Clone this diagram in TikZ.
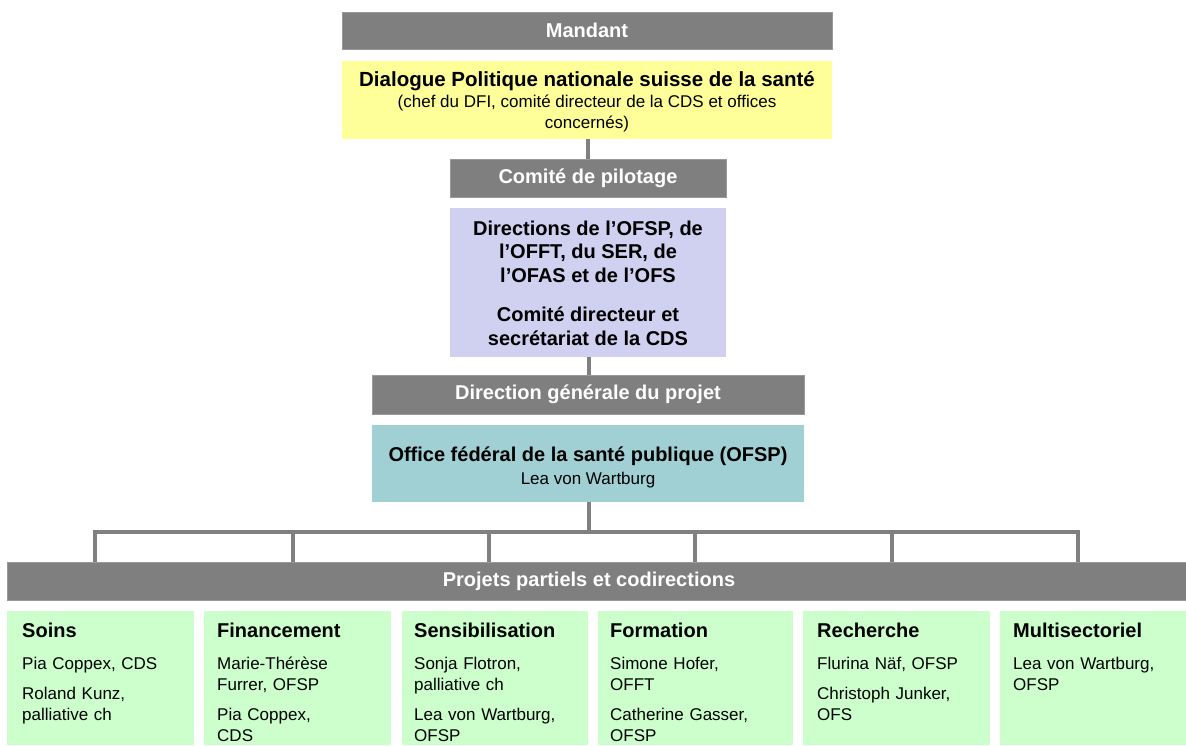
\documentclass[tikz,border=0pt]{standalone}
\usepackage{fontspec}
\setmainfont{Liberation Sans}
\definecolor{bargray}{RGB}{127,127,127}
\definecolor{ylw}{RGB}{255,255,153}
\definecolor{lav}{RGB}{208,208,240}
\definecolor{teal1}{RGB}{160,208,212}
\definecolor{grn}{RGB}{204,255,204}
\definecolor{linegray}{RGB}{128,128,128}
\begin{document}
\begin{tikzpicture}[x=1pt,y=-1pt,
  bar/.style={fill=bargray, draw=bargray!80!white, line width=0.6pt, text=white, font=\bfseries\fontsize{20}{24}\selectfont, inner sep=0pt},
  box/.style={inner sep=0pt, align=center},
  gbox/.style={fill=grn, inner sep=0pt, anchor=north west},
  gtext/.style={anchor=north west, inner sep=0pt, align=left, text width=175pt, font=\fontsize{17}{21}\selectfont},
  conn/.style={draw=linegray, line width=4pt}
]
\useasboundingbox (0,0) rectangle (1186,745);

% top
\node[bar, minimum width=490pt, minimum height=37pt] (mandant) at (587,30.5) {Mandant};
\node[box, fill=ylw, minimum width=490pt, minimum height=78pt] (dialog) at (587,100) {};
\node[box, font=\fontsize{17}{21}\selectfont] (dialogtxt) at (587,102) {\textbf{\fontsize{20.5}{21}\selectfont Dialogue Politique nationale suisse de la santé}\\(chef du DFI, comité directeur de la CDS et offices\\concernés)};

\node[bar, minimum width=276pt, minimum height=38pt] (pilot) at (588,178) {Comité de pilotage};
\node[box, fill=lav, minimum width=276pt, minimum height=149pt] (lavbox) at (588,282.5) {};
\node[box, font=\bfseries\fontsize{20}{23.5}\selectfont] (lavtxt) at (588,283) {Directions de l’OFSP, de\\l’OFFT, du SER, de\\l’OFAS et de l’OFS\\[16pt]Comité directeur et\\secrétariat de la CDS};

\node[bar, minimum width=432pt, minimum height=39pt] (direction) at (588,394.5) {Direction générale du projet};
\node[box, fill=teal1, minimum width=432pt, minimum height=77pt] (ofsp) at (588,463.5) {};
\node[box, font=\fontsize{17}{23}\selectfont] (ofsptxt) at (588,467) {\textbf{\fontsize{20}{23}\selectfont Office fédéral de la santé publique (OFSP)}\\Lea von Wartburg};

\node[bar, minimum width=1179pt, minimum height=38pt, anchor=north west] (projets) at (7,562) {};
\node[text=white, font=\bfseries\fontsize{20}{24}\selectfont, inner sep=0pt] (projtxt) at (589,581) {Projets partiels et codirections};

% connectors
\draw[conn] (dialog.south -| 588,0) -- (pilot.north -| 588,0);
\draw[conn] (lavbox.south -| 589,0) -- (direction.north -| 589,0);
\coordinate (hub) at (589,532);
\draw[conn] (ofsp.south -| hub) -- (hub);
\coordinate (b1) at (95,562);
\coordinate (b2) at (293,562);
\coordinate (b3) at (489,562);
\coordinate (b4) at (695,562);
\coordinate (b5) at (892,562);
\coordinate (b6) at (1078,562);
\draw[conn, line join=miter] (b1) |- (hub) -| (b6);
\draw[conn] (hub -| b2) -- (b2);
\draw[conn] (hub -| b3) -- (b3);
\draw[conn] (hub -| b4) -- (b4);
\draw[conn] (hub -| b5) -- (b5);

% green boxes
\node[gbox, minimum width=187pt, minimum height=134pt] (g1) at (7,611) {};
\node[gbox, minimum width=187pt, minimum height=134pt] (g2) at (204,611) {};
\node[gbox, minimum width=186pt, minimum height=134pt] (g3) at (402,611) {};
\node[gbox, minimum width=195pt, minimum height=134pt] (g4) at (598,611) {};
\node[gbox, minimum width=187pt, minimum height=134pt] (g5) at (803,611) {};
\node[gbox, minimum width=186pt, minimum height=134pt] (g6) at (1000,611) {};

\node[gtext] (t1) at (22,622) {\rule{0pt}{15pt}\textbf{\fontsize{20}{24}\selectfont Soins}\\[11pt]Pia Coppex, CDS\\[9pt]Roland Kunz,\\palliative ch};
\node[gtext] (t2) at (217,622) {\rule{0pt}{15pt}\textbf{\fontsize{20}{24}\selectfont Financement}\\[11pt]Marie-Thérèse\\Furrer, OFSP\\[9pt]Pia Coppex,\\CDS};
\node[gtext] (t3) at (414,622) {\rule{0pt}{15pt}\textbf{\fontsize{20}{24}\selectfont Sensibilisation}\\[11pt]Sonja Flotron,\\palliative ch\\[9pt]Lea von Wartburg,\\OFSP};
\node[gtext] (t4) at (610,622) {\rule{0pt}{15pt}\textbf{\fontsize{20}{24}\selectfont Formation}\\[11pt]Simone Hofer,\\OFFT\\[9pt]Catherine Gasser,\\OFSP};
\node[gtext] (t5) at (817,622) {\rule{0pt}{15pt}\textbf{\fontsize{20}{24}\selectfont Recherche}\\[11pt]Flurina Näf, OFSP\\[9pt]Christoph Junker,\\OFS};
\node[gtext] (t6) at (1013,622) {\rule{0pt}{15pt}\textbf{\fontsize{20}{24}\selectfont Multisectoriel}\\[11pt]Lea von Wartburg,\\OFSP};
\end{tikzpicture}
\end{document}
